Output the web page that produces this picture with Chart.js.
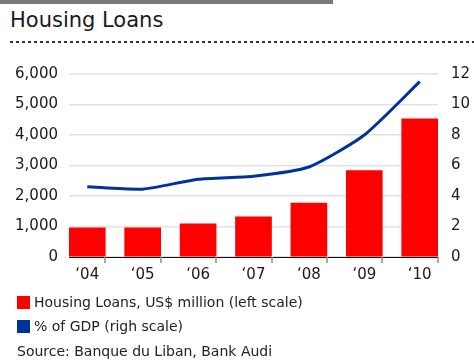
<!DOCTYPE html>
<html>
<head>
<meta charset="utf-8">
<script src="https://cdn.jsdelivr.net/npm/chart.js@4"></script>
<style>
  body { margin: 0; width: 474px; height: 360px; overflow: hidden; background: #fff; font-family: "DejaVu Sans", sans-serif; color: #222; position: relative; }
  #topband { position: absolute; left: 0; top: 0; width: 333px; height: 4px; background: #7a7a7a; }
  #title { position: absolute; left: 10px; top: 8px; font-size: 21px; color: #1a1a1a; white-space: nowrap; }
  #rule { position: absolute; left: 10px; top: 41px; width: 464px; height: 2px;
          background: repeating-linear-gradient(to right, #333 0 3px, transparent 3px 6px); }
  #wrap { position: absolute; left: 0; top: 0; width: 474px; height: 360px; }
  #legend { position: absolute; left: 17px; top: 290px; font-size: 14px; }
  .item { height: 24px; display: flex; align-items: center; white-space: nowrap; }
  .sw { width: 13px; height: 13px; margin-right: 4px; }
  #source { position: absolute; left: 17px; top: 343px; font-size: 14px; white-space: nowrap; }
</style>
</head>
<body>
<div id="topband"></div>
<div id="title">Housing Loans</div>
<div id="rule"></div>
<div id="wrap"><canvas id="chart" width="474" height="360"></canvas></div>
<div id="legend"></div>
<div id="source">Source: Banque du Liban, Bank Audi</div>
<script>
// chart data
const years = ['‘04', '‘05', '‘06', '‘07', '‘08', '‘09', '‘10'];
const loans = [960, 960, 1090, 1320, 1770, 2830, 4530];   // US$ million, left scale
const gdpShare = [4.6, 4.45, 5.1, 5.3, 5.9, 8.0, 11.5];   // % of GDP, right scale
const leftTicks = [0, 1000, 2000, 3000, 4000, 5000, 6000];
const rightTicks = [0, 2, 4, 6, 8, 10, 12];
const seriesNames = ['Housing Loans, US$ million (left scale)', '% of GDP (righ scale)'];
const seriesColors = ['#ff0000', '#003399'];

const BAR_W = 36;

// little tick marks under the axis, at the right edge of every bar (Excel style)
const axisTicks = {
    id: 'axisTicks',
    afterDraw(chart) {
        const ctx = chart.ctx;
        const x = chart.scales.x;
        const bottom = chart.chartArea.bottom;
        ctx.save();
        ctx.strokeStyle = '#8c8c8c';
        ctx.lineWidth = 1.5;
        years.forEach((_, i) => {
            const px = Math.round(x.getPixelForValue(i) + BAR_W / 2);
            ctx.beginPath();
            ctx.moveTo(px, bottom);
            ctx.lineTo(px, bottom + 6);
            ctx.stroke();
        });
        ctx.restore();
    }
};

const tickFont = { family: 'DejaVu Sans', size: 15 };

new Chart(document.getElementById('chart'), {
    data: {
        datasets: [
            {
                type: 'line',
                label: seriesNames[1],
                data: gdpShare.map((v, i) => ({ x: i, y: v })),
                yAxisID: 'y1',
                borderColor: seriesColors[1],
                borderWidth: 3,
                pointRadius: 0,
                tension: 0.2,
                order: 0
            },
            {
                type: 'bar',
                label: seriesNames[0],
                data: loans.map((v, i) => ({ x: i, y: v })),
                yAxisID: 'y',
                backgroundColor: seriesColors[0],
                barThickness: BAR_W,
                order: 1
            }
        ]
    },
    options: {
        responsive: false,
        animation: false,
        layout: { padding: { left: 9, right: 0, top: 74, bottom: 70 } },
        plugins: { legend: { display: false }, tooltip: { enabled: false } },
        scales: {
            x: {
                type: 'linear',
                offset: false,
                min: -0.33,
                max: 6.33,
                grid: { display: false, drawTicks: false },
                border: { display: true, color: '#111', width: 1 },
                afterBuildTicks: (s) => { s.ticks = years.map((_, i) => ({ value: i })); },
                afterFit: (s) => { s.height = 33; },
                ticks: {
                    padding: 9,
                    color: '#1a1a1a',
                    font: tickFont,
                    maxRotation: 0,
                    autoSkip: false,
                    callback: (v) => years[v]
                }
            },
            y: {
                type: 'linear',
                position: 'left',
                min: 0,
                max: 6000,
                grid: { color: '#e2e2e2', lineWidth: 1.5, drawTicks: false },
                border: { display: false },
                afterFit: (s) => { s.width = 60; },
                ticks: {
                    stepSize: 500,
                    padding: 11,
                    color: '#1a1a1a',
                    font: tickFont,
                    callback: (v) => leftTicks.includes(v) ? v.toLocaleString('en-US') : ' '
                }
            },
            y1: {
                type: 'linear',
                position: 'right',
                min: 0,
                max: 12,
                grid: { display: false, drawTicks: false },
                border: { display: false },
                afterFit: (s) => { s.width = 36; },
                ticks: {
                    stepSize: 2,
                    padding: 13,
                    color: '#1a1a1a',
                    font: tickFont,
                    callback: (v) => rightTicks.includes(v) ? String(v) : ''
                }
            }
        }
    },
    plugins: [axisTicks]
});

// legend
const legend = document.getElementById('legend');
seriesNames.forEach((name, i) => {
    const row = document.createElement('div');
    row.className = 'item';
    row.innerHTML = `<span class="sw" style="background:${seriesColors[i]}"></span>${name}`;
    legend.appendChild(row);
});
</script>
</body>
</html>
